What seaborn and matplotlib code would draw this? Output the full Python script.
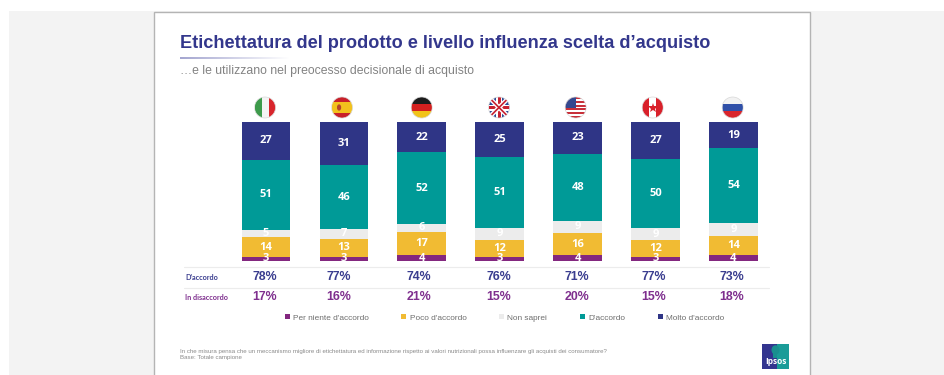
import numpy as np
import pandas as pd
import matplotlib
matplotlib.use("Agg")
import matplotlib.pyplot as plt
from matplotlib.patches import Rectangle, Circle, Ellipse, Patch
import seaborn as sns

countries = ["Italia", "Spagna", "Germania", "Regno Unito", "USA", "Canada", "Russia"]
per_niente = [3, 3, 4, 3, 4, 3, 4]
poco = [14, 13, 17, 12, 16, 12, 14]
non_saprei = [5, 7, 6, 9, 9, 9, 9]
d_accordo = [51, 46, 52, 51, 48, 50, 54]
molto = [27, 31, 22, 25, 23, 27, 19]
agree_row = ["78%", "77%", "74%", "76%", "71%", "77%", "73%"]
disagree_row = ["17%", "16%", "21%", "15%", "20%", "15%", "18%"]
series_names = ["Per niente d'accordo", "Poco d'accordo", "Non saprei", "D'accordo", "Molto d'accordo"]
series_values = [per_niente, poco, non_saprei, d_accordo, molto]
title = "Etichettatura del prodotto e livello influenza scelta d’acquisto"
subtitle = "…e le utilizzano nel preocesso decisionale di acquisto"
note = ("In che misura pensa che un meccanismo migliore di etichettatura ed informazione rispetto ai "
        "valori nutrizionali possa influenzare gli acquisti dei consumatore?\nBase: Totale campione")

# styling
colors = ["#83277f", "#f1bb33", "#ececec", "#009a97", "#2f3586"]
BLUE, PURPLE = "#3a3d8f", "#7f2f8e"
W, H = 945, 375
sns.set_theme(style="white")
plt.rcParams["font.family"] = ["Liberation Sans", "DejaVu Sans"]

fig = plt.figure(figsize=(W / 100, H / 100), dpi=100, facecolor="white")
ov = fig.add_axes([0, 0, 1, 1], zorder=1)
ov.set_xlim(0, W); ov.set_ylim(H, 0); ov.axis("off")

# page
ov.add_patch(Rectangle((9, 11), W - 9, H - 11, fc="#f3f3f3", ec="none"))
ov.add_patch(Rectangle((154, 11.5), 655.5, H, fc="white", ec="#b4b4b4", lw=1))

# title block
ov.text(180, 43.5, title, fontsize=13.1, fontweight="bold", color="#33378c", va="center", ha="left")
grad = np.ones((1, 120, 4)); grad[..., :3] = matplotlib.colors.to_rgb("#9a9ccb")
grad[..., 3] = np.linspace(0.9, 0, 120)
ov.imshow(grad, extent=(180, 290, 59, 57), aspect="auto", zorder=2)
ov.set_xlim(0, W); ov.set_ylim(H, 0)
ov.text(180, 71, subtitle, fontsize=8.8, color="#828282", va="center", ha="left")

# stacked bars
step = 77.9
x0 = 266 - 0.5 * step
ax = fig.add_axes([x0 / W, 1 - 261 / H, 7 * step / W, 139 / H], zorder=2)
ax.patch.set_alpha(0)
df = pd.DataFrame(dict(zip(series_names, series_values)), index=countries)
shares = df.div(df.sum(axis=1), axis=0) * 100
shares = shares.rename_axis("paese").reset_index()
bottom = np.zeros(len(countries))
for name, color in zip(series_names, colors):
    sns.barplot(data=shares, x="paese", y=name, bottom=bottom, color=color, saturation=1,
                width=0.625, ax=ax, label="_" + name, legend=False, linewidth=0, edgecolor="none")
    bottom = bottom + shares[name].to_numpy()
for cont, name in zip(ax.containers, series_names):
    ax.bar_label(cont, labels=[str(v) for v in df[name]], label_type="center", color="white",
                 fontsize=8, fontweight="bold", family="Open Sans")
ax.set_ylim(0, 100)
ax.set_xlim(-0.5, 6.5)
ax.axis("off")

# rows under the bars
for y in (266.5, 287.5):
    ov.plot([184, 769], [y, y], color="#ececec", lw=0.8)
ov.text(185, 277.5, "D'accordo", fontsize=5.2, fontweight="bold", color=BLUE, va="center", family="Lato")
ov.text(185, 297.5, "In disaccordo", fontsize=5.2, fontweight="bold", color=PURPLE, va="center", family="Lato")
row_px = [265, 338.7, 419, 499, 576.7, 654, 731.7]
for px, a, d in zip(row_px, agree_row, disagree_row):
    ov.text(px, 277, a, fontsize=8.9, fontweight="bold", color=BLUE, ha="center", va="center")
    ov.text(px, 297, d, fontsize=8.9, fontweight="bold", color=PURPLE, ha="center", va="center")

# legend
handles = [Patch(fc=c, ec="none", label=n) for c, n in zip(colors, series_names)]
ax.legend(handles=handles, ncol=5, loc="center", bbox_to_anchor=(504.5 / W, 1 - 318 / H),
          bbox_transform=fig.transFigure, frameon=False, fontsize=5.95, labelcolor="#6e6e6e",
          handlelength=0.6, handleheight=0.6, handletextpad=0.4, columnspacing=3.95, borderpad=0)

# footnote
ov.text(180, 354.5, note, fontsize=4.43, color="#8a8a8a", va="center", ha="left", linespacing=1.0)

# flags
def flag(cx, draw, r=10.5, cy=107.5):
    clip = Circle((cx, cy), r, transform=ov.transData)
    arts = draw(cx - r, cy - r, 2 * r)
    for a in arts:
        ov.add_artist(a)
        a.set_clip_path(clip)
    ov.add_patch(Circle((cx, cy), r, fc="none", ec="#d8d8d8", lw=0.5))

def R(x, y, w, h, c):
    return Rectangle((x, y), w, h, fc=c, ec="none")

def vstripes(cs):
    return lambda x, y, s: [R(x + i * s / len(cs), y, s / len(cs) + .2, s, c) for i, c in enumerate(cs)]

def hstripes(cs, fr=None):
    fr = fr or [1 / len(cs)] * len(cs)
    def d(x, y, s):
        out, t = [], y
        for c, f in zip(cs, fr):
            out.append(R(x, t, s, s * f + .2, c)); t += s * f
        return out
    return d

def uk(x, y, s):
    e = x + s; b = y + s; m = y + s / 2; c = x + s / 2
    out = [R(x, y, s, s, "#2d4a94")]
    for (p, q), col, lw in [(((x, y), (e, b)), "white", 3.2), (((x, b), (e, y)), "white", 3.2),
                            (((x, y), (e, b)), "#c8202f", 1.2), (((x, b), (e, y)), "#c8202f", 1.2)]:
        out.append(plt.Line2D([p[0], q[0]], [p[1], q[1]], color=col, lw=lw))
    out += [R(x, m - 3, s, 6, "white"), R(c - 3, y, 6, s, "white"),
            R(x, m - 1.5, s, 3, "#c8202f"), R(c - 1.5, y, 3, s, "#c8202f")]
    return out

def usa(x, y, s):
    out = [R(x, y + i * s / 11, s, s / 11 + .2, "#c8303a" if i % 2 == 0 else "white") for i in range(11)]
    out.append(R(x, y, s * .5, s * .5, "#35488f"))
    return out

def canada(x, y, s):
    out = vstripes(["#d9202a", "white", "#d9202a"])(x, y, s)
    out.append(plt.Line2D([x + s / 2], [y + s / 2], marker="*", ms=7, color="#d9202a", mew=0))
    return out

def spain(x, y, s):
    out = hstripes(["#c8202a", "#f2c11d", "#c8202a"], [.25, .5, .25])(x, y, s)
    out.append(Ellipse((x + s * .36, y + s / 2), s * .2, s * .3, fc="#b5452c", ec="none"))
    return out

flag(265, vstripes(["#3d9a4b", "#f4f4f4", "#d8252c"]))
flag(342, spain)
flag(421.7, hstripes(["#1c1c1c", "#d4201f", "#f1c31a"]))
flag(499, uk)
flag(575.7, usa)
flag(652.7, canada)
flag(732.7, hstripes(["#f2f2f2", "#3050a8", "#d9252c"]))

# logo
ov.add_patch(Rectangle((762, 344), 14.5, 24.7, fc="#33358f", ec="none"))
ov.add_patch(Rectangle((776.5, 344), 12.2, 24.7, fc="#1a9c98", ec="none"))
ov.add_patch(Ellipse((775.5, 350), 8, 9.5, fc="#1a8f8f", ec="none"))
ov.add_patch(Rectangle((773.3, 353), 4, 5, fc="#1a8f8f", ec="none"))
ov.text(775.5, 362, "Ipsos", fontsize=6, fontweight="bold", color="white", ha="center", va="center", family="Open Sans")

fig.savefig("out.png", dpi=100)
